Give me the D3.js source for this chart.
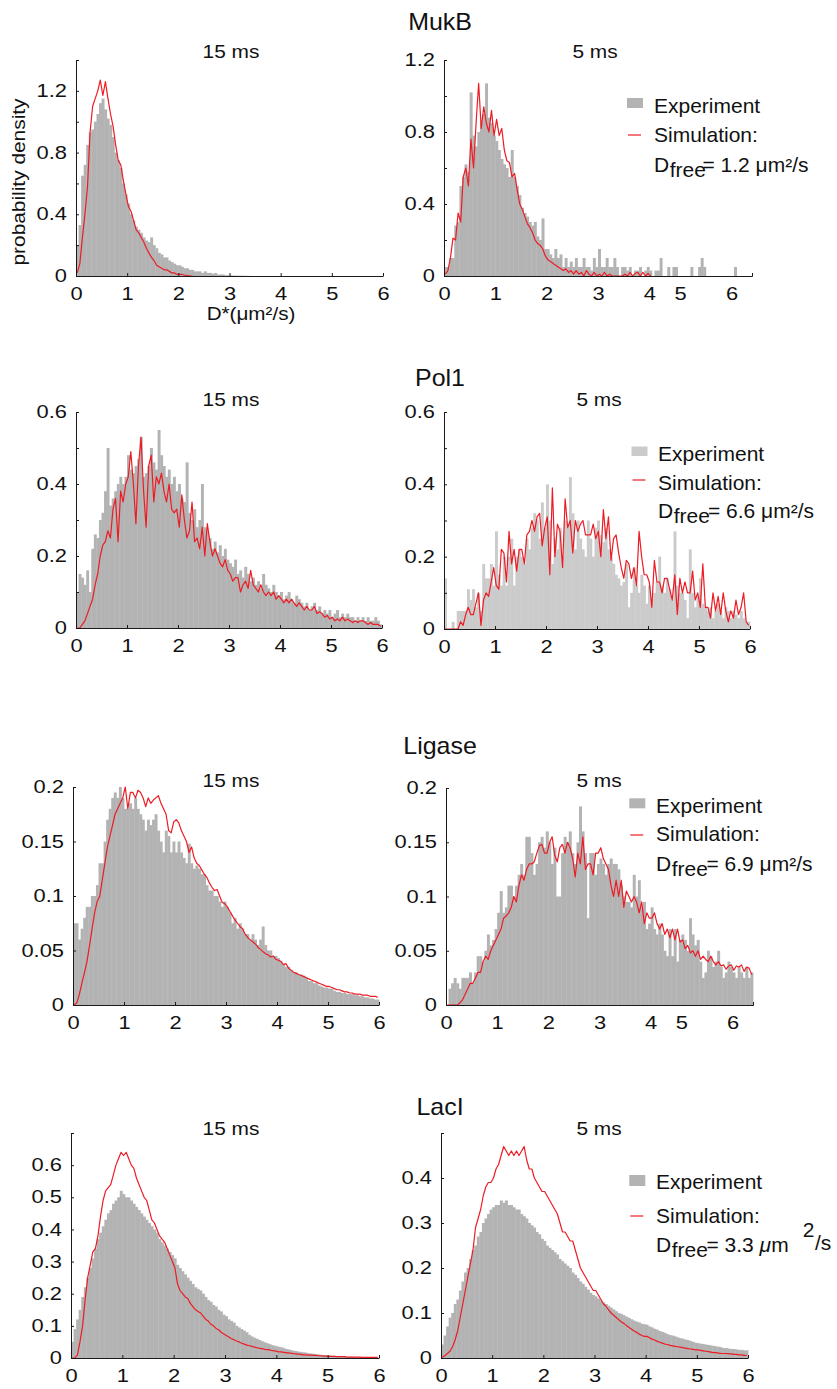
<!DOCTYPE html>
<html>
<head>
<meta charset="utf-8">
<script src="https://cdn.jsdelivr.net/npm/d3@7"></script>
<style>
  body { margin: 0; background: #fff; }
  svg text { font-family: "Liberation Sans", Arial, Helvetica, sans-serif; fill: #111; }
</style>
</head>
<body>
<svg id="fig" width="837" height="1389"></svg>
<script>
// histogram bin width (µm²/s); every series below is one value per bin, starting at 0
const binWidth = 0.05;

// MukB
const mukb15Exp = [0.2,0.33,0.65,0.72,0.85,0.93,0.95,1.0,1.05,1.12, 1.15,1.08,1.02,0.98,0.9,0.8,0.75,0.7,0.6,0.53,
  0.47,0.4,0.36,0.32,0.3,0.28,0.25,0.23,0.22,0.25, 0.2,0.18,0.15,0.14,0.12,0.12,0.1,0.09,0.08,0.07,
  0.07,0.06,0.05,0.05,0.04,0.04,0.03,0.03,0.03,0.02, 0.03,0.02,0.02,0.015,0.02,0.01,0.01,0.01,0.005,0.005,
  0.004,0.003,0.003,0.002,0.002,0.002,0.001,0.001];
const mukb15Sim = [0.02,0.08,0.25,0.4,0.58,0.93,1.1,1.15,1.2,1.27, 1.17,1.26,1.15,1.05,0.97,0.85,0.75,0.72,0.62,0.53,
  0.45,0.42,0.36,0.3,0.28,0.25,0.22,0.18,0.15,0.12, 0.1,0.07,0.06,0.05,0.04,0.04,0.03,0.02,0.02,0.01,
  0.01,0.01,0.005,0.005,0,0];
const mukb5Exp = [0.05,0.05,0.1,0.1,0.28,0.3,0.5,0.55,0.62,0.58, 1.02,0.78,0.72,0.8,0.85,0.9,1.07,0.88,0.85,0.78,
  0.75,0.7,0.65,0.62,0.6,0.55,0.7,0.55,0.5,0.45, 0.38,0.35,0.33,0.3,0.28,0.3,0.22,0.2,0.32,0.15,
  0.15,0.12,0.1,0.15,0.1,0.12,0.05,0.1,0.05,0.08, 0.05,0.1,0.05,0.05,0.1,0.05,0.05,0.03,0.1,0.05,
  0.15,0.05,0.05,0.1,0.05,0.05,0.1,0.05,0,0.05, 0.05,0.03,0.05,0,0.03,0.03,0.05,0,0.03,0.05,
  0.03,0,0.03,0.03,0.1,0,0,0.05,0,0.05, 0.05,0,0,0,0,0,0.05,0,0,0.05,
  0.1,0.05,0,0,0,0,0,0,0,0, 0,0,0,0.05];
const mukb5Sim = [0.01,0.03,0.1,0.21,0.2,0.35,0.3,0.55,0.6,0.5, 0.76,0.6,0.85,1.07,0.82,0.94,0.85,0.8,0.92,0.78,
  0.87,0.78,0.82,0.7,0.64,0.63,0.55,0.57,0.48,0.4, 0.37,0.33,0.29,0.27,0.24,0.2,0.18,0.17,0.15,0.11,
  0.09,0.08,0.07,0.06,0.05,0.04,0.03,0.04,0.02,0.03, 0.01,0.03,0.01,0.02,0,0.03,0.01,0,0.02,0,
  0.01,0,0.02,0,0.01,0,0,0,0,0, 0.01,0,0.02,0,0.015,0.02,0,0.02,0,0.015, 0];

// Pol1
const pol15Exp = [0.1,0.15,0.14,0.12, 0.16,0.1,0.22, 0.26,0.25,0.3, 0.32,0.38, 0.5,0.34, 0.36,0.38,
  0.4,0.42,0.4, 0.42,0.48,0.44,0.43, 0.45,0.47,0.53,0.42, 0.43,0.45,0.5,0.46,0.44, 0.55,0.48,0.45,
  0.42,0.44,0.4,0.42, 0.38,0.4,0.36,0.35,0.46, 0.32,0.3,0.33,0.28,0.3,0.4,0.28,0.27,
  0.25,0.22,0.24,0.21,0.23,0.2,0.22,0.19, 0.18,0.17,0.19,0.15,0.16,0.14,0.17,0.15,0.13,
  0.14,0.12,0.13,0.11,0.15,0.12,0.11,0.1,0.12,0.1, 0.09,0.1,0.08,0.09,0.1,0.08,0.07,0.09,0.08,
  0.07,0.06,0.07,0.05,0.06,0.07,0.05,0.06,0.04,0.05, 0.04,0.05,0.03,0.04,0.05,0.03,0.04,0.03,0.04,0.03,0.03,
  0.02,0.03,0.02,0.03,0.02,0.03,0.02,0.02,0.03,0.02,0.01];
const pol15Sim = [0,0,0.01,0.02, 0.04,0.06,0.08,0.12, 0.15,0.2,0.23,0.24, 0.27,0.25,0.33,0.36, 0.24,0.38,0.35,0.4,
  0.42,0.49,0.4,0.29, 0.45,0.53,0.38,0.28, 0.45,0.48,0.35,0.42, 0.4,0.43,0.38,0.35, 0.4,0.33,0.32,0.33,
  0.28,0.37,0.3,0.25, 0.27,0.35,0.24,0.25, 0.22,0.28,0.2,0.29, 0.24,0.2,0.22,0.2, 0.18,0.17,0.19,0.16,
  0.15,0.13,0.14,0.14, 0.1,0.12,0.13,0.11, 0.16,0.12,0.11,0.1, 0.12,0.1,0.09,0.1, 0.09,0.1,0.08,0.09,
  0.08,0.07,0.08,0.07, 0.08,0.07,0.06,0.07, 0.06,0.05,0.06,0.05, 0.05,0.06,0.04,0.045, 0.04,0.03,0.035,0.025,
  0.03,0.02,0.025,0.02, 0.03,0.02,0.025,0.02, 0.015,0.02,0.015,0.02, 0.02,0.015,0.01,0.015, 0.01,0.01,0.01,0.005];
const pol5Exp = [0.14,0,0,0.02,0,0.05,0.05,0.05,0.05,0.11, 0.08,0.11,0.06,0.1,0.05,0.18,0.14,0.14,0.18,0.12,
  0.27,0.15,0.12,0.2,0.12,0.2,0.25,0.12,0.2,0.22, 0.2,0.18,0.25,0.22,0.28,0.32,0.3,0.25,0.35,0.28,
  0.4,0.3,0.18,0.25,0.22,0.28,0.2,0.3,0.28,0.42, 0.32,0.22,0.3,0.25,0.22,0.2,0.3,0.25,0.2,0.28,
  0.3,0.26,0.24,0.28,0.22,0.2,0.18,0.15,0.14,0.12, 0.13,0.18,0.06,0.1,0.17,0.12,0.1,0.15,0.12,0.07,
  0.12,0.08,0.1,0.13,0.2,0.12,0.1,0.14,0.11,0.08, 0.27,0.12,0.1,0.1,0.08,0.03,0.22,0.1,0.06,0.09,
  0.14,0.07,0.06,0.05,0.06,0.03,0.05,0.07,0.05,0.03, 0.06,0.05,0.03,0.05,0.04,0.03,0.05,0.03,0.02,0.02];
const pol5Sim = [0,0,0,0,0,0,0.02,0.01,0.04,0.06, 0.04,0.04,0.07,0.1,0.01,0.08,0.1,0.09,0.13,0.17,
  0.12,0.11,0.22,0.21,0.13,0.27,0.18,0.22,0.16,0.22, 0.22,0.18,0.26,0.27,0.3,0.27,0.31,0.32,0.23,0.28,
  0.31,0.15,0.39,0.2,0.29,0.27,0.17,0.36,0.28,0.3, 0.21,0.3,0.27,0.29,0.3,0.26,0.26,0.26,0.29,0.25,
  0.27,0.2,0.33,0.25,0.31,0.19,0.25,0.26,0.21,0.17, 0.14,0.19,0.18,0.14,0.17,0.12,0.27,0.2,0.15,0.15,
  0.13,0.06,0.19,0.13,0.13,0.1,0.14,0.14,0.11,0.08, 0.15,0.04,0.14,0.1,0.13,0.1,0.1,0.16,0.08,0.1,
  0.06,0.18,0.06,0.06,0.03,0.1,0.05,0.09,0.04,0.1, 0.05,0.02,0.05,0.03,0.08,0.04,0.06,0.1,0.02,0.01];

// Ligase
const lig15Exp = [0.075,0.075,0.06,0.07,0.08,0.09,0.09,0.1,0.1,0.11, 0.13,0.13,0.15,0.17,0.18,0.19,0.195,0.19,0.2,0.19,
  0.18,0.18,0.185,0.18,0.19,0.18,0.175,0.17,0.16,0.17, 0.165,0.17,0.175,0.16,0.15,0.14,0.16,0.155,0.14,0.15,
  0.14,0.15,0.14,0.135,0.13,0.148,0.13,0.125,0.128,0.125, 0.12,0.12,0.11,0.105,0.105,0.1,0.1,0.095,0.09,0.095,
  0.09,0.085,0.075,0.08,0.07,0.075,0.07,0.065,0.065,0.06, 0.065,0.06,0.055,0.06,0.072,0.055,0.05,0.05,0.045,0.045,
  0.043,0.04,0.037,0.035,0.035,0.032,0.03,0.03,0.028,0.028, 0.027,0.025,0.022,0.022,0.02,0.02,0.018,0.017,0.016,0.016,
  0.015,0.015,0.013,0.012,0.012,0.011,0.011,0.01,0.01,0.01, 0.009,0.009,0.008,0.008,0.007,0.007,0.006,0.006,0.005,0.005];
const lig15Sim = [0,0.002,0.01,0.02,0.03,0.04,0.055,0.07,0.085,0.095, 0.1,0.115,0.13,0.145,0.155,0.165,0.175,0.18,0.185,0.19,
  0.2,0.18,0.195,0.195,0.19,0.197,0.195,0.19,0.182,0.19, 0.185,0.188,0.19,0.192,0.185,0.18,0.175,0.16,0.158,0.168,
  0.17,0.167,0.16,0.155,0.15,0.14,0.145,0.135,0.13,0.128, 0.124,0.12,0.117,0.112,0.108,0.105,0.106,0.1,0.094,0.093,
  0.09,0.086,0.082,0.078,0.075,0.072,0.07,0.065,0.062,0.06, 0.058,0.056,0.053,0.051,0.049,0.047,0.046,0.044,0.045,0.042,
  0.041,0.04,0.037,0.038,0.034,0.032,0.03,0.029,0.028,0.027, 0.026,0.025,0.024,0.023,0.022,0.021,0.02,0.019,0.018,0.017,
  0.017,0.016,0.015,0.014,0.014,0.013,0.012,0.012,0.011,0.011, 0.01,0.01,0.01,0.009,0.009,0.009,0.008,0.008,0.008,0.007];
const lig5Exp = [0,0.015,0.02,0.025,0.02,0.015,0.025,0.025,0.025,0.03, 0.02,0.03,0.045,0.045,0.04,0.05,0.065,0.055,0.06,0.07,
  0.085,0.105,0.085,0.09,0.11,0.11,0.1,0.11,0.12,0.13, 0.12,0.155,0.155,0.14,0.12,0.13,0.15,0.155,0.145,0.16,
  0.15,0.13,0.145,0.1,0.1,0.14,0.155,0.15,0.16,0.14, 0.13,0.15,0.183,0.16,0.14,0.08,0.14,0.14,0.12,0.13,
  0.135,0.13,0.12,0.13,0.135,0.13,0.13,0.125,0.11,0.1, 0.095,0.095,0.09,0.12,0.1,0.115,0.09,0.095,0.07,0.075,
  0.09,0.07,0.065,0.075,0.065,0.05,0.045,0.07,0.045,0.07, 0.04,0.06,0.065,0.06,0.05,0.08,0.065,0.055,0.06,0.04,
  0.025,0.03,0.05,0.045,0.035,0.04,0.05,0.035,0.025,0.03, 0.04,0.035,0.03,0.025,0.035,0.03,0.025,0.035,0.025,0.03];
const lig5Sim = [0,0,0,0,0,0.002,0.005,0.01,0.015,0.02, 0.02,0.025,0.03,0.03,0.04,0.045,0.042,0.05,0.055,0.06,
  0.065,0.07,0.08,0.082,0.085,0.09,0.1,0.095,0.11,0.12, 0.115,0.125,0.13,0.13,0.132,0.14,0.147,0.148,0.14,0.14,
  0.15,0.155,0.138,0.132,0.145,0.148,0.14,0.15,0.145,0.135, 0.118,0.14,0.13,0.155,0.125,0.13,0.13,0.12,0.14,0.14,
  0.145,0.135,0.13,0.125,0.11,0.1,0.115,0.1,0.115,0.09, 0.105,0.1,0.095,0.1,0.095,0.085,0.095,0.075,0.085,0.08,
  0.08,0.085,0.075,0.07,0.075,0.065,0.07,0.062,0.07,0.06, 0.07,0.058,0.06,0.052,0.055,0.048,0.05,0.045,0.05,0.042,
  0.045,0.042,0.04,0.045,0.04,0.037,0.04,0.036,0.037,0.033, 0.036,0.037,0.032,0.036,0.035,0.037,0.031,0.035,0.034,0.028];

// LacI
const lac15Exp = [0.05,0.09,0.12,0.15,0.19,0.22,0.25,0.28,0.31,0.34, 0.37,0.39,0.41,0.43,0.45,0.46,0.48,0.49,0.5,0.52,
  0.51,0.5,0.5,0.49,0.48,0.47,0.46,0.45,0.44,0.43, 0.42,0.41,0.4,0.39,0.37,0.36,0.35,0.34,0.33,0.32,
  0.31,0.29,0.28,0.27,0.26,0.25,0.24,0.23,0.22,0.215, 0.21,0.2,0.19,0.18,0.175,0.165,0.16,0.15,0.145,0.135,
  0.13,0.12,0.115,0.11,0.1,0.095,0.09,0.085,0.08,0.072, 0.067,0.063,0.06,0.056,0.052,0.049,0.046,0.043,0.04,0.038,
  0.036,0.034,0.032,0.029,0.027,0.025,0.023,0.022,0.02,0.019, 0.018,0.017,0.015,0.014,0.013,0.012,0.011,0.01,0.009,0.0085,
  0.008,0.007,0.007,0.006,0.006,0.005,0.005,0.004,0.004,0.004, 0.003,0.003,0.003,0.003,0.002,0.002,0.002,0.002,0.002,0.001];
const lac15Sim = [0,0,0.01,0.05,0.1,0.18,0.25,0.29,0.33,0.34, 0.38,0.44,0.49,0.52,0.53,0.54,0.57,0.6,0.62,0.64,
  0.63,0.64,0.62,0.6,0.59,0.56,0.54,0.52,0.5,0.49, 0.46,0.43,0.42,0.4,0.38,0.37,0.36,0.34,0.32,0.3,
  0.28,0.23,0.21,0.2,0.19,0.185,0.17,0.16,0.15,0.145, 0.14,0.13,0.12,0.115,0.105,0.1,0.092,0.088,0.08,0.075,
  0.07,0.065,0.06,0.057,0.053,0.05,0.046,0.043,0.04,0.038, 0.036,0.034,0.032,0.03,0.029,0.027,0.026,0.025,0.023,0.022,
  0.02,0.019,0.018,0.017,0.016,0.015,0.014,0.013,0.012,0.011, 0.01,0.01,0.009,0.009,0.008,0.008,0.007,0.007,0.006,0.006,
  0.005,0.005,0.005,0.004,0.004,0.004,0.004,0.003,0.003,0.003, 0.003,0.003,0.003,0.002,0.002,0.002,0.002,0.002,0.002,0.002];
const lac5Exp = [0.03,0.05,0.07,0.09,0.1,0.12,0.13,0.15,0.17,0.19, 0.2,0.22,0.24,0.25,0.27,0.28,0.3,0.31,0.32,0.33,
  0.335,0.34,0.34,0.35,0.345,0.35,0.34,0.34,0.335,0.33, 0.33,0.32,0.315,0.31,0.3,0.295,0.29,0.28,0.275,0.265,
  0.26,0.25,0.245,0.24,0.235,0.23,0.22,0.215,0.21,0.205, 0.2,0.19,0.185,0.178,0.17,0.165,0.158,0.152,0.145,0.14,
  0.137,0.132,0.128,0.124,0.12,0.116,0.112,0.108,0.104,0.1, 0.098,0.095,0.092,0.089,0.086,0.083,0.081,0.079,0.076,0.075,
  0.074,0.07,0.068,0.065,0.063,0.06,0.058,0.056,0.053,0.051, 0.05,0.048,0.046,0.044,0.043,0.041,0.04,0.038,0.036,0.034,
  0.033,0.032,0.031,0.03,0.029,0.028,0.027,0.026,0.025,0.024, 0.022,0.022,0.021,0.02,0.02,0.019,0.018,0.018,0.017,0.017];
const lac5Sim = [0.002,0.005,0.01,0.015,0.025,0.04,0.06,0.09,0.12,0.15, 0.18,0.21,0.24,0.29,0.31,0.33,0.36,0.38,0.39,0.39,
  0.4,0.42,0.43,0.45,0.47,0.46,0.45,0.46,0.45,0.46, 0.45,0.46,0.47,0.44,0.42,0.42,0.4,0.39,0.38,0.37,
  0.37,0.36,0.35,0.34,0.33,0.32,0.3,0.28,0.28,0.27, 0.26,0.26,0.24,0.22,0.2,0.19,0.18,0.17,0.16,0.15,
  0.15,0.14,0.13,0.12,0.115,0.107,0.1,0.095,0.09,0.085, 0.08,0.077,0.072,0.068,0.064,0.06,0.057,0.053,0.05,0.048,
  0.048,0.045,0.042,0.04,0.037,0.035,0.033,0.031,0.03,0.028, 0.027,0.026,0.025,0.024,0.023,0.022,0.021,0.02,0.019,0.018,
  0.018,0.017,0.016,0.015,0.014,0.013,0.012,0.012,0.011,0.01, 0.01,0.01,0.009,0.009,0.008,0.008,0.007,0.007,0.006,0.006];

// ticks and labels
const xTicks = [0, 1, 2, 3, 4, 5, 6];
const xTicksSqueezed = [0, 1, 2, 3, 4, 4.6, 5.6];   // where the 5 ms panels print 4, 5, 6
const xLabels = ['0', '1', '2', '3', '4', '5', '6'];
const yTicksMukb15 = [0, 0.2, 0.4, 0.6, 0.8, 1, 1.2, 1.4];
const yTicksMukb5 = [0, 0.2, 0.4, 0.6, 0.8, 1, 1.2];
const yLabelsMukb = [0, 0.4, 0.8, 1.2];
const yTicksPol = [0, 0.1, 0.2, 0.3, 0.4, 0.5, 0.6];
const yLabelsPol = [0, 0.2, 0.4, 0.6];
const yTicksLig = [0, 0.05, 0.1, 0.15, 0.2];
const yTicksLac15 = [0, 0.1, 0.2, 0.3, 0.4, 0.5, 0.6, 0.7];
const yLabelsLac15 = [0, 0.1, 0.2, 0.3, 0.4, 0.5, 0.6];
const yTicksLac5 = [0, 0.1, 0.2, 0.3, 0.4, 0.5];
const yLabelsLac5 = [0, 0.1, 0.2, 0.3, 0.4];

const proteins = ['MukB', 'Pol1', 'Ligase', 'LacI'];
const dFree = ['1.2', '6.6', '6.9', '3.3'];

const red = '#ed1c24';
const gray = '#b3b3b3';
const svg = d3.select('#fig');

// the original lettering is a little wider than Liberation Sans, so stretch it
function stretched(parent, x, y, str, size, sx, anchor, rot) {
  return parent.append('text')
    .attr('transform', `translate(${x},${y})` + (rot ? ` rotate(${rot})` : '') + ` scale(${sx},1)`)
    .attr('text-anchor', anchor || 'start')
    .style('font-size', size + 'px')
    .text(str);
}

const panels = [
  { exp: mukb15Exp, sim: mukb15Sim, l: 76, r: 383, t: 60, b: 276, yMax: 1.4, yTicks: yTicksMukb15, yLabels: yLabelsMukb, xt: xTicks, title: '15 ms', tx: 231, ty: 58 },
  { exp: mukb5Exp, sim: mukb5Sim, l: 444, r: 752, t: 60, b: 276, yMax: 1.2, yTicks: yTicksMukb5, yLabels: yLabelsMukb, xt: xTicksSqueezed, title: '5 ms', tx: 595, ty: 58 },
  { exp: pol15Exp, sim: pol15Sim, l: 76, r: 382, t: 412, b: 628, yMax: 0.6, yTicks: yTicksPol, yLabels: yLabelsPol, xt: xTicks, title: '15 ms', tx: 231, ty: 406 },
  { exp: pol5Exp, sim: pol5Sim, l: 444, r: 750, t: 412, b: 629, yMax: 0.6, yTicks: yTicksPol, yLabels: yLabelsPol, xt: xTicks, title: '5 ms', tx: 599, ty: 406, light: true },
  { exp: lig15Exp, sim: lig15Sim, l: 73, r: 379, t: 787, b: 1005, yMax: 0.2, yTicks: yTicksLig, yLabels: yTicksLig, xt: xTicks, title: '15 ms', tx: 231, ty: 787 },
  { exp: lig5Exp, sim: lig5Sim, l: 446, r: 753, t: 788, b: 1005, yMax: 0.2, yTicks: yTicksLig, yLabels: yTicksLig, xt: xTicksSqueezed, title: '5 ms', tx: 599, ty: 787 },
  { exp: lac15Exp, sim: lac15Sim, l: 71, r: 379, t: 1133, b: 1358, yMax: 0.7, yTicks: yTicksLac15, yLabels: yLabelsLac15, xt: xTicks, title: '15 ms', tx: 231, ty: 1135 },
  { exp: lac5Exp, sim: lac5Sim, l: 441, r: 748, t: 1133, b: 1358, yMax: 0.5, yTicks: yTicksLac5, yLabels: yLabelsLac5, xt: xTicks, title: '5 ms', tx: 599, ty: 1135 },
];

const tickSx = 1.25;

panels.forEach(p => {
  const x = d3.scaleLinear().domain([0, 6]).range([p.l, p.r]);
  const y = d3.scaleLinear().domain([0, p.yMax]).range([p.b, p.t]);
  const g = svg.append('g');

  g.append('g').selectAll('rect')
    .data(p.exp)
    .join('rect')
      .attr('x', (d, i) => x(i * binWidth))
      .attr('y', d => y(d))
      .attr('width', x(binWidth) - x(0) + 0.4)
      .attr('height', d => y(0) - y(d))
      .attr('fill', p.light ? '#cbcbcb' : gray);

  const line = d3.line()
    .x((d, i) => x((i + 0.5) * binWidth))
    .y(d => y(d));
  g.append('path')
    .datum(p.sim)
    .attr('d', line)
    .attr('fill', 'none')
    .attr('stroke', red)
    .attr('stroke-width', 1.2)
    .attr('stroke-linejoin', 'round');

  const squeezed = p.xt === xTicksSqueezed;
  const ax = g.append('g')
    .attr('transform', `translate(0,${p.b})`)
    .call(d3.axisBottom(x)
      .tickValues(p.xt)
      .tickFormat((d, i) => xLabels[i])
      .tickSizeInner(squeezed ? 0 : -3)
      .tickSizeOuter(squeezed ? -3 : 0)
      .tickPadding(12));
  const ay = g.append('g')
    .attr('transform', `translate(${p.l},0)`)
    .call(d3.axisLeft(y)
      .tickValues(p.yTicks)
      .tickFormat(d => p.yLabels.includes(d) ? String(d) : '')
      .tickSizeInner(-3)
      .tickSizeOuter(0)
      .tickPadding(9));

  [ax, ay].forEach(a => {
    a.attr('font-size', 17.5).attr('font-family', null);
    a.selectAll('path, line').attr('stroke', '#1a1a1a');
    a.selectAll('.tick text').attr('transform', `scale(${tickSx},1)`);
  });
  ay.selectAll('.tick text').attr('x', -9 / tickSx);

  stretched(svg, p.tx, p.ty, p.title, 18, 1.16, 'middle');
});

// row titles
const rowTitleY = [30, 386, 754, 1115];
proteins.forEach((name, i) => stretched(svg, 440, rowTitleY[i], name, 24, 1.04, 'middle'));

// axis titles of the first panel
stretched(svg, 251, 320, 'D*(μm²/s)', 17.5, 1.18, 'middle');
stretched(svg, 25, 182, 'probability density', 18, 1.16, 'middle', -90);

// legends in the 5 ms panels
const legends = [
  { rx: 627, ry: 98, rh: 10, lineY: 135, tx: 654, yExp: 112.7, ySim: 142, yD: 171.7, eqX: 702.5 },
  { rx: 631.5, ry: 446.5, rh: 9.5, lineY: 480, tx: 658, yExp: 461, ySim: 490, yD: 518.3, eqX: 708 },
  { rx: 629.3, ry: 798.3, rh: 10, lineY: 835, tx: 656, yExp: 812.7, ySim: 841, yD: 871, eqX: 706.5 },
  { rx: 629.3, ry: 1175, rh: 11, lineY: 1216, tx: 656, yExp: 1189, ySim: 1222.7, yD: 1251.7, eqX: 706.5 },
];
const legSize = 20, legSx = 1.05;
legends.forEach((lg, i) => {
  svg.append('rect').attr('x', lg.rx).attr('y', lg.ry).attr('width', 16).attr('height', lg.rh)
    .attr('fill', i === 1 ? '#cbcbcb' : gray);
  svg.append('line').attr('x1', lg.rx + 1).attr('x2', lg.rx + 14).attr('y1', lg.lineY).attr('y2', lg.lineY)
    .attr('stroke', red).attr('stroke-width', 1.2);
  stretched(svg, lg.tx, lg.yExp, 'Experiment', legSize, legSx);
  stretched(svg, lg.tx, lg.ySim, 'Simulation:', legSize, legSx);
  stretched(svg, lg.tx, lg.yD, 'D', legSize, legSx);
  stretched(svg, lg.tx + 15.7, lg.yD + 5, 'free', legSize, legSx);
  if (i < 3) {
    stretched(svg, lg.eqX, lg.yD, `= ${dFree[i]} μm²/s`, legSize, legSx);
  } else {
    const t = stretched(svg, lg.eqX, lg.yD, `= ${dFree[i]} `, legSize, legSx);
    t.append('tspan').style('font-style', 'italic').text('μ');
    t.append('tspan').text('m');
    stretched(svg, 802.7, lg.yD - 15, '2', legSize, legSx);
    stretched(svg, 815, lg.yD - 1.5, '/s', legSize, legSx);
  }
});
</script>
</body>
</html>
